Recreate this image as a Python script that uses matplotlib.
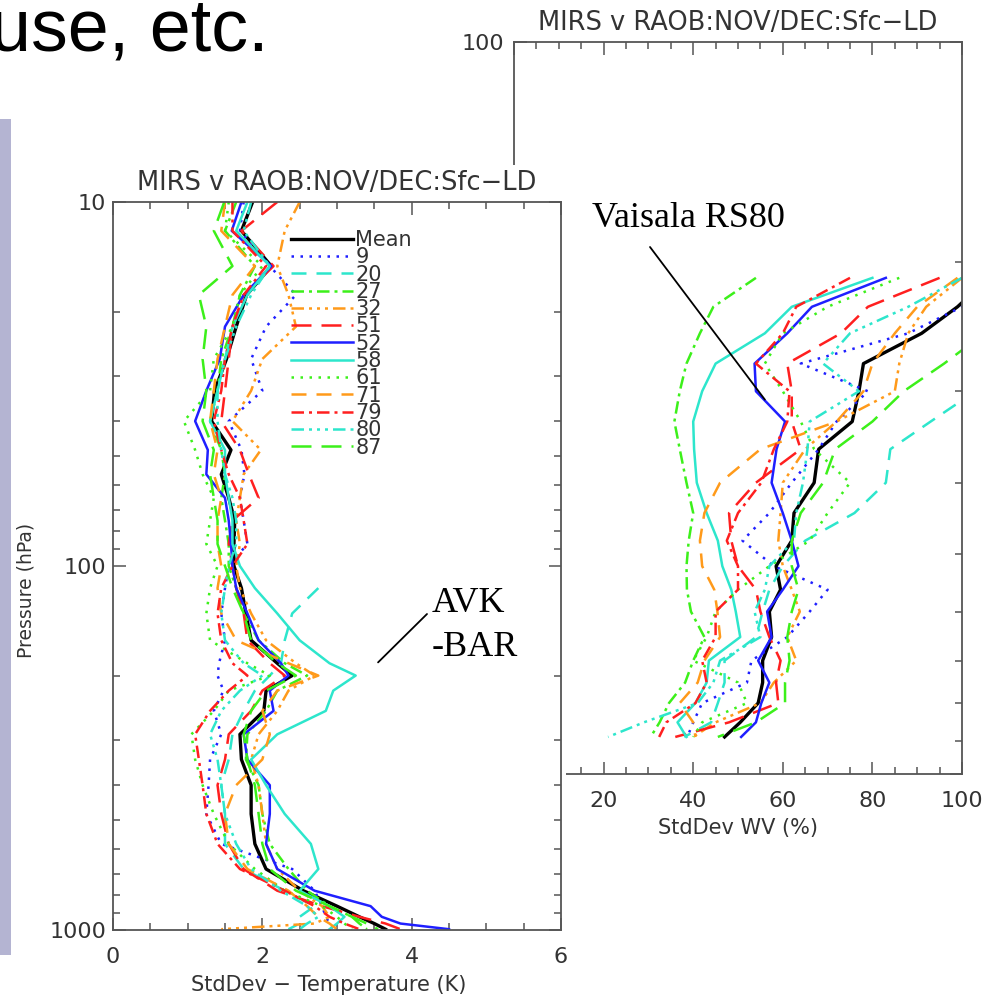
import numpy as np
import matplotlib.pyplot as plt
from matplotlib.patches import Rectangle
from matplotlib.ticker import LogLocator, MultipleLocator, NullFormatter

# pressure levels (hPa)
p_t = [10, 12, 15, 18, 22, 27, 33, 40, 48, 56, 65, 75, 87, 100, 115, 135, 160, 185,
       200, 220, 250, 290, 340, 400, 480, 580, 680, 780, 860, 920, 960, 995]
p_wv = [210, 230, 250, 275, 300, 330, 360, 400, 440, 480, 520, 560, 600, 650, 700,
        750, 800, 850, 890]

labels = ['Mean', '9', '20', '27', '32', '51', '52', '58', '61', '71', '79', '80', '87']

nan = np.nan
# temperature std dev (K)
t_mean = [1.87, 1.72, 2.12, 1.79, 1.65, 1.52, 1.36, 1.32, 1.58, 1.45, 1.55, 1.63, 1.62, 1.62, 1.72, 1.78,
          1.85, 2.2, 2.4, 2.05, 2.02, 1.7, 1.72, 1.85, 1.85, 1.9, 2.05, 2.55, 3.0, 3.3, 3.5, 3.65]
t_9 = [1.75, 1.7, 2.1, 2.45, 2.05, 1.85, 2.0, 1.55, 1.72, 1.76, 1.7, 1.75, 1.8, 1.55, 1.5, 1.45,
       1.5, 1.42, 1.4, 1.48, 1.35, 1.45, 1.3, 1.28, 1.25, 1.45, 2.4, 2.7, 2.8, 2.85, 2.9, 2.95]
t_20 = [nan, nan, nan, nan, nan, nan, nan, nan, nan, nan, nan, nan, nan, nan, 2.75, 2.4,
        2.3, 2.25, 2.1, 1.9, 1.75, 1.6, 1.55, 1.45, 1.5, 1.5, 1.75, 2.3, 2.7, 2.5, 2.5, 2.35]
t_27 = [1.65, 1.5, 1.9, 1.7, 1.6, 1.45, 1.4, 1.3, 1.45, 1.5, 1.45, 1.5, 1.55, 1.55, 1.65, 1.75,
        1.95, 2.3, 2.6, 2.2, 2.05, 1.8, 1.78, 1.95, 2.0, 2.1, 2.35, 2.6, 2.9, 3.2, 3.3, 3.4]
t_32 = [2.5, 2.3, 2.2, 2.35, 2.45, 2.0, 1.85, 1.6, 1.98, 1.75, 1.7, 1.65, 1.7, 1.65, 1.7, 1.85,
        2.05, 2.45, 2.7, 2.35, 2.2, 1.95, 1.85, 1.95, 2.0, 2.05, 2.2, 2.5, 2.8, 2.9, 2.7, 1.45]
t_51 = [2.2, 1.72, 2.15, 1.75, 1.6, 1.55, 1.5, 1.45, 1.7, 1.82, 1.95, 1.6, 1.55, 1.6, 1.65, 1.75,
        1.8, 2.1, 2.3, 2.0, 1.85, 1.55, 1.5, 1.4, 1.45, 1.55, 1.75, 2.2, 2.8, 3.3, 3.65, 3.85]
t_52 = [1.72, 1.59, 2.12, 1.75, 1.5, 1.43, 1.25, 1.1, 1.27, 1.25, 1.5, 1.55, 1.58, 1.6, 1.65, 1.8,
        1.95, 2.25, 2.35, 2.1, 2.15, 1.75, 1.8, 2.1, 2.1, 2.05, 2.2, 2.7, 3.45, 3.6, 3.85, 4.5]
t_58 = [1.8, 1.65, 2.1, 1.8, 1.6, 1.5, 1.4, 1.3, 1.5, 1.5, 1.55, 1.6, 1.6, 1.7, 1.9, 2.2,
        2.5, 2.9, 3.25, 2.95, 2.85, 2.2, 1.85, 2.05, 2.3, 2.65, 2.75, 2.5, 2.9, 3.1, 3.0, 2.9]
t_61 = [1.55, 1.5, 2.0, 1.7, 1.6, 1.35, 1.3, 0.95, 1.1, 1.2, 1.35, 1.3, 1.25, 1.4, 1.3, 1.25,
        1.3, 1.8, 2.1, 1.55, 1.35, 1.05, 1.1, 1.2, 1.35, 1.55, 1.9, 2.3, 2.8, 3.0, 3.1, 3.2]
t_71 = [1.5, 1.45, 1.9, 1.6, 1.5, 1.4, 1.35, 1.3, 1.4, 1.35, 1.45, 1.4, 1.4, 1.45, 1.4, 1.45,
        1.65, 2.35, 2.75, 2.2, 2.0, 2.1, 2.0, 1.65, 1.5, 1.55, 1.8, 2.35, 2.6, 2.75, 2.9, 3.0]
t_79 = [1.6, 1.6, 2.05, 1.75, 1.6, 1.5, 1.45, 1.35, 1.45, 1.55, 1.7, 1.75, 1.8, 1.6, 1.45, 1.4,
        1.45, 1.6, 1.8, 1.55, 1.3, 1.1, 1.15, 1.2, 1.25, 1.4, 1.7, 2.3, 2.7, 2.9, 3.1, 3.3]
t_80 = [1.85, 1.75, 2.1, 1.85, 1.65, 1.5, 1.4, 1.4, 1.45, 1.5, 1.6, 1.65, 1.65, 1.55, 1.5, 1.45,
        1.5, 1.75, 2.0, 1.7, 1.45, 1.3, 1.4, 1.45, 1.5, 1.65, 1.85, 2.25, 2.6, 2.75, 2.6, 2.5]
t_87 = [1.49, 1.35, 1.6, 1.15, 1.25, 1.2, 1.25, 1.2, 1.35, 1.3, 1.35, 1.4, 1.4, 1.5, 1.6, 1.75,
        1.85, 2.2, 2.45, 2.05, 1.85, 1.75, 1.8, 1.9, 1.95, 2.0, 2.1, 2.45, 2.9, 3.2, 3.4, 3.55]

# water vapour std dev (%)
wv_mean = [106, 99, 91, 78, 77, 75.5, 68, 67, 62.5, 62, 58.5, 59.5, 57, 57.5, 55.5, 55.5, 54.5, 50.5, 47]
wv_9 = [112, 100, 88, 64, 79, 72, 68, 62, 57, 51, 58, 70, 66, 61, 53, 52, 42, 40, 38.7]
wv_20 = [120, 118, 115, 110, 103, 93, 84, 83, 76, 65, 60, 57, 55.5, 54, 47, 47, 45.5, 44, 38]
wv_27 = [54, 44.5, 41.5, 38.5, 37, 35.8, 37, 38.5, 40, 39, 38.5, 38.6, 39.5, 42.5, 40, 38.2, 34.6, 32.5, 30.5]
wv_32 = [100, 92, 88, 86, 85, 72, 65, 60, 59.5, 59, 60, 62, 63.8, 61, 63, 58, 55, 45, 40]
wv_51 = [95, 79, 73, 61, 62, 62, 64, 54, 48, 48.5, 50, 54, 55, 57, 59.5, 58.5, 59, 48, 36]
wv_52 = [83, 66.5, 61, 53.7, 54, 60.5, 58.6, 57.5, 60, 62, 63.5, 60, 56.5, 57.5, 54.5, 57, 55.2, 54, 50.7]
wv_58 = [80, 62, 56, 45, 42, 40, 40.2, 40.8, 43, 45.5, 46.5, 48.5, 49.5, 50.5, 43.5, 43, 40.5, 36.5, 38.5]
wv_61 = [86, 70, 60, 56, 60, 64, 67, 75, 70, 66, 57, 50, 45, 43, 40, 50, 52, 42, 40]
wv_71 = [99, 90, 85, 80, 78, 72, 55, 46, 42.5, 41.5, 42, 44.7, 45.4, 46, 42.5, 41, 37, 40, 40.5]
wv_79 = [75, 63, 60, 54, 61.5, 61, 58, 55.2, 50, 47.5, 50, 50, 45, 45, 42, 43, 40.5, 34, 32.4]
wv_80 = [100, 88, 75, 69, 77, 66, 65.5, 64.5, 63, 62.5, 57, 56, 53.7, 55, 46, 44.5, 41, 29, 21]
wv_87 = [120, 112, 105, 96, 87, 80, 71.7, 69, 64, 62, 62, 63.5, 62, 61, 61.5, 60.5, 60.5, 54, 45.5]

t_series = [t_mean, t_9, t_20, t_27, t_32, t_51, t_52, t_58, t_61, t_71, t_79, t_80, t_87]
wv_series = [wv_mean, wv_9, wv_20, wv_27, wv_32, wv_51, wv_52, wv_58, wv_61, wv_71, wv_79, wv_80, wv_87]

blue = '#1f1fff'
cyan = '#2de6cc'
green = '#3cf01a'
orange = '#ff9a1a'
red = '#ff1f1f'
colors = ['black', blue, cyan, green, orange, red, blue, cyan, green, orange, red, cyan, green]
dot = (0, (1, 2.6))
dash = (0, (6, 4))
ldash = (0, (8, 4))
dashdot = (0, (5, 2, 1.2, 2))
dash3 = (0, (5, 2, 1.2, 2, 1.2, 2, 1.2, 2))
styles = ['-', dot, dash, dashdot, dash3, ldash, '-', '-', dot, dash, dashdot, dash3, ldash]

axc = '#555555'
txc = '#333333'
plt.rcParams['font.family'] = 'DejaVu Sans'

fig = plt.figure(figsize=(9.94, 9.98), dpi=100)

ax_wv = fig.add_axes([514 / 994, 1 - 774 / 998, 448 / 994, 732 / 998])
ax_t = fig.add_axes([113 / 994, 1 - 930 / 998, 448 / 994, 728 / 998])
ax_wv.set_zorder(0)
ax_t.set_zorder(2)

# white area of the front plot hides part of the back one
fig.add_artist(Rectangle((430 / 994, 0), 136 / 994, 833 / 998, transform=fig.transFigure,
                         facecolor='white', edgecolor='none', zorder=1))
fig.add_artist(Rectangle((0, 1 - 955 / 998), 11 / 994, 836 / 998, transform=fig.transFigure,
                         facecolor='#b4b4d2', edgecolor='none', zorder=3))

handles = []
for vals, c, ls, lab in zip(t_series, colors, styles, labels):
    lw = 2.4 if lab == 'Mean' else 1.8
    h, = ax_t.plot(vals, p_t, color=c, ls=ls, lw=lw, label=lab)
    handles.append(h)
for vals, c, ls, lab in zip(wv_series, colors, styles, labels):
    lw = 2.4 if lab == 'Mean' else 1.8
    ax_wv.plot(vals, p_wv, color=c, ls=ls, lw=lw)

for ax in (ax_t, ax_wv):
    ax.set_yscale('log')
    ax.yaxis.set_minor_locator(LogLocator(subs=range(2, 10)))
    ax.yaxis.set_minor_formatter(NullFormatter())
    for s in ax.spines.values():
        s.set_color(axc)
        s.set_linewidth(1.3)
    ax.tick_params(which='both', direction='in', top=True, right=True, color=axc,
                   labelcolor=txc, labelsize=16, width=1.1)
    ax.tick_params(which='major', length=9)
    ax.tick_params(which='minor', length=5)
    ax.tick_params(axis='x', pad=12)
    ax.set_title('MIRS v RAOB:NOV/DEC:Sfc\u2212LD', fontsize=18.5, color=txc, pad=9)

ax_t.set_xlim(0, 6)
ax_t.set_ylim(1000, 10)
ax_t.set_xticks([0, 2, 4, 6])
ax_t.xaxis.set_minor_locator(MultipleLocator(0.5))
ax_t.set_yticks([10, 100, 1000], ['10', '100', '1000'])
ax_t.tick_params(axis='y', pad=5)
ax_t.set_xlabel('StdDev \u2212 Temperature (K)', fontsize=15, color=txc)
ax_t.xaxis.set_label_coords(0.482, -0.062)
ax_t.set_ylabel('Pressure (hPa)', fontsize=13.5, color=txc)
ax_t.yaxis.set_label_coords(-0.174, 0.467)

ax_wv.set_xlim(0, 100)
ax_wv.set_ylim(1000, 100)
ax_wv.set_xticks([0, 20, 40, 60, 80, 100])
ax_wv.xaxis.set_minor_locator(MultipleLocator(5))
ax_wv.set_yticks([100, 1000], ['100', '1000'])
ax_wv.tick_params(axis='y', pad=7)
ax_wv.set_xlabel('StdDev WV (%)', fontsize=15, color=txc)
ax_wv.xaxis.set_label_coords(0.5, -0.06)

leg = ax_t.legend(handles=handles, loc='upper left', bbox_to_anchor=(0.397, 0.9615),
                  frameon=False, fontsize=15, handlelength=3.0, handletextpad=0.1,
                  labelspacing=-0.13, borderpad=0, borderaxespad=0)
for t in leg.get_texts():
    t.set_color(txc)

# slide annotations
fig.text(-10 / 994, 1 - 50 / 998, 'use, etc.', fontsize=53, family='Liberation Sans',
         va='baseline')
fig.text(592 / 994, 1 - 227 / 998, 'Vaisala RS80', fontsize=26, family='Liberation Serif',
         va='baseline')
fig.text(432 / 994, 1 - 612 / 998, 'AVK', fontsize=26, family='Liberation Serif', va='baseline')
fig.text(432 / 994, 1 - 656 / 998, '-BAR', fontsize=26, family='Liberation Serif', va='baseline')
ax_wv.annotate('', xy=(56, 308), xytext=(650 / 994, 1 - 247 / 998), textcoords='figure fraction',
               arrowprops=dict(arrowstyle='-', color='black', lw=1.3, shrinkA=0, shrinkB=0))
ax_t.annotate('', xy=(3.55, 184), xytext=(427 / 994, 1 - 614 / 998), textcoords='figure fraction',
              arrowprops=dict(arrowstyle='-', color='black', lw=1.3, shrinkA=0, shrinkB=0))

fig.savefig('out.png', dpi=100)
